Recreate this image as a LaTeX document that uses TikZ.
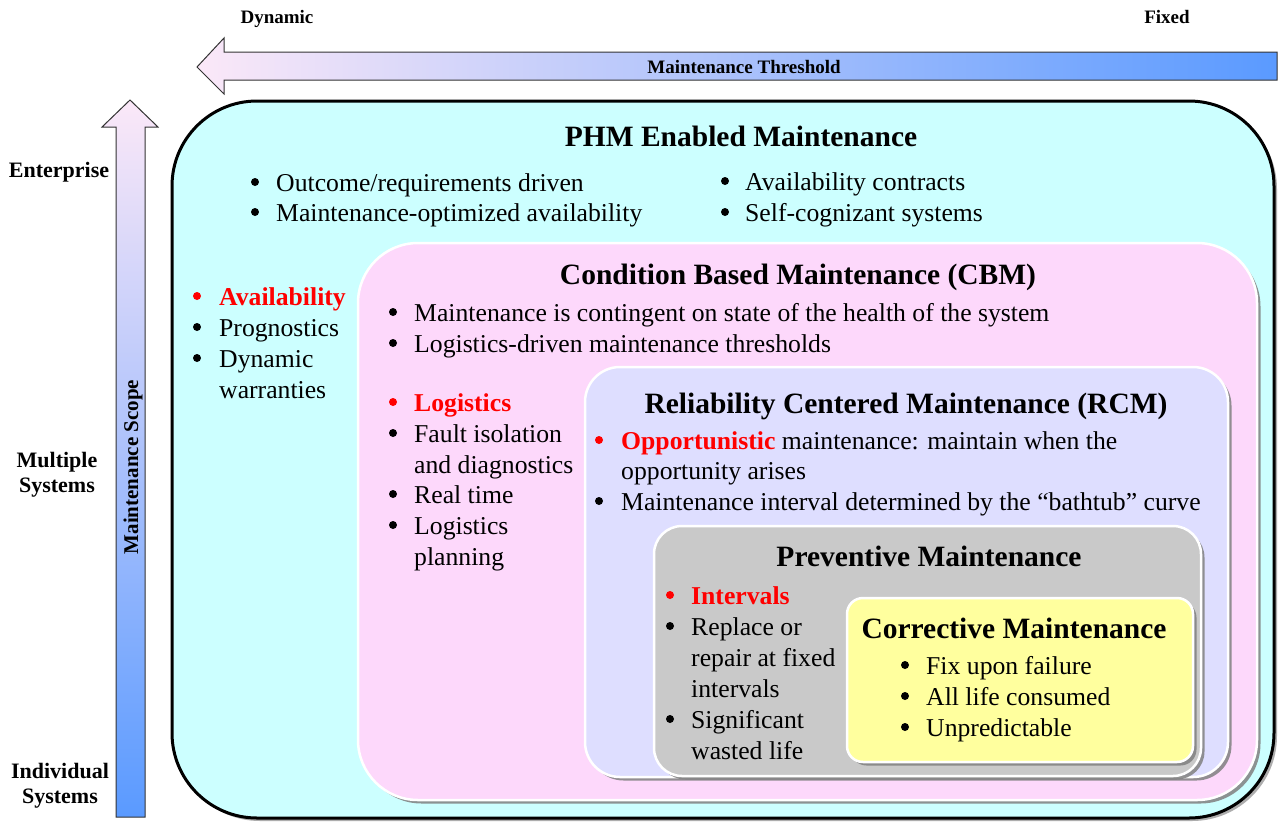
\documentclass[tikz,border=0pt]{standalone}
\usepackage{fontspec}
\setmainfont{Liberation Serif}
\usetikzlibrary{shadows}
\definecolor{cyanbg}{HTML}{CCFFFF}
\definecolor{pinkbg}{HTML}{FDD8FB}
\definecolor{lavbg}{HTML}{DEDEFF}
\definecolor{graybg}{HTML}{C9C9C9}
\definecolor{yelbg}{HTML}{FFFF9E}
\definecolor{arrpink}{HTML}{FBE8F8}
\definecolor{arrmid}{HTML}{A9C9F2}
\definecolor{arrblue}{HTML}{5A9AFF}
\definecolor{redtxt}{HTML}{FF0000}
\newcommand\bodyfont{\fontsize{25.7}{31}\selectfont}
\newcommand\titlefont{\fontsize{29.5}{35}\selectfont\bfseries}
\newcommand\sidefont{\fontsize{22}{26}\selectfont\bfseries}
\newcommand\topfont{\fontsize{19}{23}\selectfont\bfseries}
\begin{document}
\begin{tikzpicture}[x=1pt,y=-1pt,
  bevel/.style={rounded corners=#1, anchor=north west, inner sep=0pt, outer sep=0pt,
    draw=white, line width=2.5pt,
    drop shadow={shadow xshift=3.5pt, shadow yshift=-3.5pt, fill=black!50, opacity=0.85}},
  outerbox/.style={rounded corners=#1, anchor=north west, inner sep=0pt, outer sep=0pt,
    draw=black, line width=3pt,
    drop shadow={shadow xshift=3pt, shadow yshift=-3pt, fill=black!40, opacity=0.8}},
  txt/.style={anchor=base west, inner sep=0pt, font=\bodyfont},
  bul/.style={circle, fill=black, inner sep=0pt, minimum size=8pt, yshift=9pt},
  ttl/.style={anchor=base, inner sep=0pt, font=\titlefont},
  side/.style={anchor=base, inner sep=0pt, font=\sidefont, align=center},
  toplab/.style={anchor=base, inner sep=0pt, font=\topfont}]
\useasboundingbox (0,0) rectangle (1278,823);
\fill[white] (0,0) rectangle (1278,823);

% ---- horizontal threshold arrow
\shadedraw[draw=black!80, line width=1pt, left color=arrpink, middle color=arrmid, right color=arrblue]
  (197,67) -- (224,38) -- (224,52) -- (1277,52) -- (1277,80) -- (224,80) -- (224,94) -- cycle;
\node[toplab] (thr) at (744,73) {Maintenance Threshold};
\node[toplab] (dyn) at (277,23) {Dynamic};
\node[toplab] (fix) at (1167,23) {Fixed};

% ---- vertical scope arrow
\shadedraw[draw=black!80, line width=1pt, top color=arrpink, middle color=arrmid!85!arrblue, bottom color=arrblue]
  (130,100) -- (158,127) -- (145,127) -- (145,817) -- (116,817) -- (116,127) -- (102,127) -- cycle;
\node[side, rotate=90, font=\fontsize{21}{25}\selectfont\bfseries] (scope) at (138,467) {Maintenance Scope};
\node[side] (ent) at (59,177) {Enterprise};
\node[side] (mul1) at (57,467) {Multiple};
\node[side] (mul2) at (57,492) {Systems};
\node[side] (ind1) at (60,778) {Individual};
\node[side] (ind2) at (60,803) {Systems};

% ---- boxes
\node[outerbox=85pt, fill=cyanbg, minimum width=1102pt, minimum height=717pt] (phm) at (172,101) {};
\node[bevel=60pt, fill=pinkbg, minimum width=899pt, minimum height=557pt] (cbm) at (358,243) {};
\node[bevel=35pt, fill=lavbg, minimum width=643pt, minimum height=410pt] (rcm) at (585,367) {};
\node[bevel=28pt, fill=graybg, minimum width=547pt, minimum height=250pt] (pm) at (654,526) {};
\node[bevel=16pt, fill=yelbg, minimum width=346pt, minimum height=164pt] (cm) at (847,598) {};

% ---- PHM text
\node[ttl] (phmt) at (741,146) {PHM Enabled Maintenance};
\node[bul] (pb1) at (255,191) {}; \node[txt] (pl1) at (276,191) {Outcome/requirements driven};
\node[bul] (pb2) at (255,221) {}; \node[txt] (pl2) at (276,221) {Maintenance-optimized availability};
\node[bul] (pb3) at (725,190) {}; \node[txt] (pl3) at (745,190) {Availability contracts};
\node[bul] (pb4) at (725,221) {}; \node[txt] (pl4) at (745,221) {Self-cognizant systems};
\node[bul, fill=redtxt] (pb5) at (197,305) {}; \node[txt, text=redtxt, font=\bodyfont\bfseries] (pl5) at (219,305) {Availability};
\node[bul] (pb6) at (197,336) {}; \node[txt] (pl6) at (219,336) {Prognostics};
\node[bul] (pb7) at (197,367) {}; \node[txt] (pl7) at (219,367) {Dynamic};
\node[txt] (pl8) at (219,398) {warranties};

% ---- CBM text
\node[ttl] (cbmt) at (798,284) {Condition Based Maintenance (CBM)};
\node[bul] (cb1) at (393,321) {}; \node[txt] (cl1) at (414,321) {Maintenance is contingent on state of the health of the system};
\node[bul] (cb2) at (393,352) {}; \node[txt] (cl2) at (414,352) {Logistics-driven maintenance thresholds};
\node[bul, fill=redtxt] (cb3) at (393,411) {}; \node[txt, text=redtxt, font=\bodyfont\bfseries] (cl3) at (414,411) {Logistics};
\node[bul] (cb4) at (393,442) {}; \node[txt] (cl4) at (414,442) {Fault isolation};
\node[txt] (cl5) at (414,473) {and diagnostics};
\node[bul] (cb6) at (393,503) {}; \node[txt] (cl6) at (414,503) {Real time};
\node[bul] (cb7) at (393,534) {}; \node[txt] (cl7) at (414,534) {Logistics};
\node[txt] (cl8) at (414,565) {planning};

% ---- RCM text
\node[ttl] (rcmt) at (906,413) {Reliability Centered Maintenance (RCM)};
\node[bul, fill=redtxt] (rb1) at (599,449) {}; \node[txt] (rl1) at (621,449) {\textcolor{redtxt}{\bfseries Opportunistic} maintenance: maintain when the};
\node[txt] (rl2) at (621,479) {opportunity arises};
\node[bul] (rb3) at (599,510) {}; \node[txt] (rl3) at (621,510) {Maintenance interval determined by the “bathtub” curve};

% ---- Preventive text
\node[ttl] (pmt) at (929,566) {Preventive Maintenance};
\node[bul, fill=redtxt] (mb1) at (670,604) {}; \node[txt, text=redtxt, font=\bodyfont\bfseries] (ml1) at (691,604) {Intervals};
\node[bul] (mb2) at (670,635) {}; \node[txt] (ml2) at (691,635) {Replace or};
\node[txt] (ml3) at (691,666) {repair at fixed};
\node[txt] (ml4) at (691,697) {intervals};
\node[bul] (mb5) at (670,728) {}; \node[txt] (ml5) at (691,728) {Significant};
\node[txt] (ml6) at (691,759) {wasted life};

% ---- Corrective text
\node[ttl] (cmt) at (1014,638) {Corrective Maintenance};
\node[bul] (kb1) at (905,674) {}; \node[txt] (kl1) at (926,674) {Fix upon failure};
\node[bul] (kb2) at (905,705) {}; \node[txt] (kl2) at (926,705) {All life consumed};
\node[bul] (kb3) at (905,736) {}; \node[txt] (kl3) at (926,736) {Unpredictable};
\end{tikzpicture}
\end{document}
